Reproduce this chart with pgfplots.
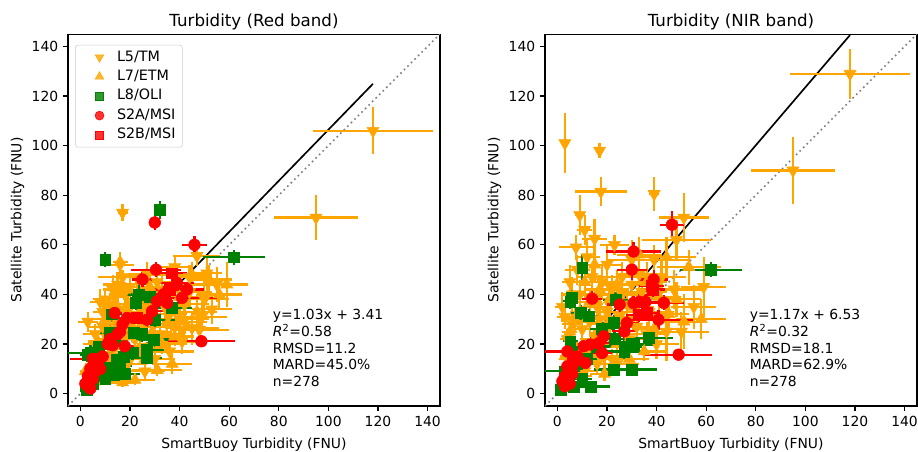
\documentclass[border=0pt]{standalone}
\usepackage{fontspec}
\setmainfont{DejaVu Sans}
\usepackage{pgfplots}
\pgfplotsset{compat=1.18}
\definecolor{mporange}{RGB}{255,165,0}
\definecolor{mpgreen}{RGB}{0,128,0}
\definecolor{mpred}{RGB}{255,0,0}
\newcommand{\lf}{\fontsize{10.3}{12}\selectfont}
\pgfplotsset{
  every axis title shift=0pt,
  myaxis/.style={
    scale only axis, width=267.8pt, height=267.8pt,
    xmin=-5, xmax=145, ymin=-5, ymax=145,
    xtick={0,20,...,140}, ytick={0,20,...,140},
    xtick pos=bottom, ytick pos=left, tick align=outside,
    major tick length=3.5pt,
    every tick/.style={black, line width=0.8pt},
    axis line style={line width=0.8pt},
    /pgf/number format/assume math mode=true,
    ticklabel style={font=\fontsize{10}{12}\selectfont},
    label style={font=\fontsize{10}{12}\selectfont},
    xlabel style={at={(axis description cs:0.5,-0.114)}, anchor=base},
    ylabel style={at={(axis description cs:-0.1254,0.5)}, anchor=base},
    title style={at={(axis description cs:0.5,1.0205)}, anchor=base, font=\fontsize{12}{14}\selectfont},
    xlabel={SmartBuoy Turbidity (FNU)},
    ylabel={Satellite Turbidity (FNU)},
  },
  eb/.style={only marks, forget plot,
    error bars/x dir=both, error bars/x explicit,
    error bars/y dir=both, error bars/y explicit,
    error bars/error mark=none,
    error bars/error bar style={line width=1.6pt, solid}},
  l5/.style={eb, color=mporange, mark=triangle*, mark size=5pt, mark options={rotate=180}},
  l7/.style={eb, color=mporange, mark=triangle*, mark size=5pt},
  l8/.style={eb, color=mpgreen, mark=square*, mark size=3.9pt},
  s2a/.style={eb, color=mpred, mark=*, mark size=4.2pt},
  s2b/.style={eb, color=mpred, mark=square*, mark size=3.9pt},
}
\begin{document}
\begin{tikzpicture}
\path[use as bounding box] (0,0) rectangle (660.96pt,324.72pt);
% ================= LEFT =================
\begin{axis}[myaxis, at={(48.96pt,32.4pt)}, anchor=south west,
  title={Turbidity (Red band)},
  legend cell align=left,
  legend image code/.code={\path (-14.2pt,0pt) (10.4pt,0pt); \draw[#1] plot coordinates {(0pt,0pt)};},
  legend style={at={(axis description cs:0.019,0.971)}, anchor=north west,
    draw=black!20, rounded corners=2pt, fill=white, fill opacity=0.8, text opacity=1,
    font=\lf, row sep=0.5pt,
    nodes={text height=7.5pt, text depth=2pt}},
]
\addlegendimage{color=mporange, mark=triangle*, mark size=3.6pt, mark options={rotate=180}}
\addlegendentry{\lf L5/TM}
\addlegendimage{color=mporange, mark=triangle*, mark size=3.6pt}
\addlegendentry{\lf L7/ETM}
\addlegendimage{color=mpgreen, mark=square*, mark size=2.8pt}
\addlegendentry{\lf L8/OLI}
\addlegendimage{color=mpred, mark=*, mark size=3.2pt}
\addlegendentry{\lf S2A/MSI}
\addlegendimage{color=mpred, mark=square*, mark size=2.8pt}
\addlegendentry{\lf S2B/MSI}
\addplot[forget plot, gray, line width=1.2pt, dash pattern=on 1.2pt off 2.4pt] coordinates {(-5,-5) (145,145)};
\addplot[forget plot, black, line width=1.2pt] coordinates {(1,4.44) (118,124.95)};
\addplot[l5] table[x=x,y=y,x error=ex,y error=ey] {
x y ex ey
118 106 24 9.5
95 71 17 9
17 73 2 3.5
16 52 5.5 4
47 55.5 9.5 4
38 51 7 5
51 48.5 6 7
44 47 8 5
17 47 10 3
15 44 6 5
8 37 4 5
10 38 5 4
12 36 3 4
14 39 5 5
18 41 6 4
20 43 7 4
23 40 8 5
26 35 6 4
29 38 8 5
33 42 9 6
36 32 7 5
53 34 8 6
45 26.5 11 7
48 25.8 12 6
36 17 10 3
3 29 4 4
6 24 5 4
9 27 6 5
12 26 4 5
15 28 6 4
20 30 8 5
22 22 6 4
25 27 9 5
8 18 5 3
11 15 5 3
5 12 3 3
14 9 6 3
19 12 8 3
3 8 2 2
7 5 3 2
16 6 5 2
28 19 8 4
32 24 10 4
42 36 10 5
40 30 12 6
50 38 10 8
55 44 10 7
31 45 9 5
27 48 8 5
44 41 9 6
49 31 10 6
38 27 9 5
24 18 9 4
30 14 8 4
19 33 8 5
13 42 4 6
9 33 4 4
6 20 5 3
11 22 5 4
18 26 7 4
34 35 8 5
41 21 10 5
26 9 8 3
10 11 4 3
};
\addplot[l7] table[x=x,y=y,x error=ex,y error=ey] {
x y ex ey
59 44 8.7 9
31 9.5 10 2.5
22 5.5 8 2
17 4.5 5 2
45 48 8 5
52 46 9 6
40 39 8 6
35 28 9 5
30 30 8 4
24 33 7 5
19 36 6 4
15 35 5 5
10 30 5 4
7 21 4 3
4 15 3 3
2 9 2 2
9 7 4 2
13 18 5 3
18 23 6 4
26 14 7 3
28 43 8 5
21 27 7 5
38 23 8 4
16 53 3 4
47 33 8 7
56 40 9 6
33 20 10 4
42 29 9 5
25 38 8 5
12 13 5 3
6 10 3 2
20 16 7 3
29 25 8 5
37 12 8 4
};
\addplot[l8] table[x=x,y=y,x error=ex,y error=ey] {
x y ex ey
32 74 2.5 3.5
10 54 2 3
62 55 12.5 3
23.5 40 6 4
22.5 36.6 5 3
28 39 7 4
37 34.6 8 3
12.8 32 4 3
2.9 15.7 3 3
4 16.5 9 2
7.4 19 4 3
12 24.5 4 3
14 21.8 5 3
21.5 24.5 7 3
24.9 24 6 3
21 16.4 6 3
26.9 17.7 7 3
26.9 14.4 6 2
29.6 21.8 8 3
30.2 29.8 8 3
14.8 13.7 5 2
17.5 15 6 2
8 7 3 2
13.4 7.7 5 2
12 10.4 4 2
16 11 5 2
2.7 1.6 1 1
2.2 3 1 1
8 10.4 3 2
5 4 2 1
10 6 4 2
18 8 6 2
};
\addplot[s2a] table[x=x,y=y,x error=ex,y error=ey] {
x y ex ey
30 69 2 3
46 60 5 3.5
30.5 50 10 3
25 46 4 3
13.8 32.5 3 2.5
18.8 30.5 4 3
28.9 33.2 5 3
26.9 29.8 4 3
30.9 37.2 6 3
33.5 40 5 3
35.5 42 6 3
39 44.6 7 3
41 38.6 14 3
43 42 7 3
35 36.6 5 3
17.9 19.1 4 2
48.8 21.1 13.5 2
5 14 9 2
3 3 1 1
4 5 1.5 1
3 7 1.5 1
5 8 2 1.5
4 10 2 1.5
6 9 2 1.5
7 12 2 1.5
8 10 2 1.5
9 15 3 2
5 6 1.5 1
2 4 1 1
4 2 1 1
11 20 3 2
12 22 3 2
13 19.5 3 2
16 25 4 2
17 28 4 2
15 24 4 2
6 11 2 1.5
};
\addplot[s2b] table[x=x,y=y,x error=ex,y error=ey] {
x y ex ey
37 48.5 6 3
36 42 5 3
22.9 30.6 3 2
7 14 3 2
4 8 2 1.5
3 4.5 1.5 1
};
\node[anchor=south west, align=left, inner sep=0pt, font=\fontsize{10}{12.2}\selectfont] at (rel axis cs:0.55,0.05)
  {y=1.03x + 3.41\\\textit{R}\textsuperscript{2}=0.58\\RMSD=11.2\\MARD=45.0\%\\n=278};
\end{axis}
% ================= RIGHT =================
\begin{axis}[myaxis, at={(392.4pt,32.4pt)}, anchor=south west,
  title={Turbidity (NIR band)}]
\addplot[forget plot, gray, line width=1.2pt, dash pattern=on 1.2pt off 2.4pt] coordinates {(-5,-5) (145,145)};
\addplot[forget plot, black, line width=1.2pt] coordinates {(1,7.7) (118,144.59)};
\addplot[l5] table[x=x,y=y,x error=ex,y error=ey] {
x y ex ey
118 129 24 10
95 90 17 13.5
3 101 1.5 12
17 98 1.5 3
17.5 81.5 10.5 6
39 80.5 2 7
9 72 2 8
51 71 10 10
48 62 14 8
7.5 59 7 5
23 60 6 4
15 62.5 5 8
11 66 3 6
39 54 14 6
59 43 9 12
44 25 8 12
8 50 5 6
14 47 6 5
18 45 8 7
22 42 7 6
26 47 9 6
30 44 8 6
34 41 10 7
3 31 3 5
6 28 4 5
10 26 4 6
13 29 5 6
16 35 6 6
20 33 7 6
25 31 8 5
28 36 9 6
32 27 8 5
36 24 9 5
12 16 5 4
16 12 6 4
9 7 5 3
22 14 8 4
4 22 3 4
6 40 4 7
19 24 6 5
30 54 10 8
26 40 8 7
20 52 6 8
12 55 5 7
42 47 10 7
47 42 12 8
55 35 9 9
37 33 10 6
29 22 9 6
24 12 9 5
14 20 6 5
2 35 3 6
5 45 3 7
9 40 4 6
17 30 6 6
40 20 9 6
50 25 11 8
33 48 8 6
21 28 7 5
11 9 5 4
};
\addplot[l7] table[x=x,y=y,x error=ex,y error=ey] {
x y ex ey
53 51 13 7
51 29 8 11
45 32 8 6
41 39 9 7
36 45 8 8
31 35 8 6
26 30 7 6
21 38 7 6
17 42 6 6
13 37 5 5
9 33 4 5
5 25 3 4
3 15 2 3
8 18 4 3
15 22 6 4
24 20 7 4
29 14 8 4
35 17 9 4
19 8 6 3
11 45 4 7
44 55 12 8
58 30 10 8
39 26 9 7
33 56 9 7
24 44 7 6
15 52 5 7
7 30 3 5
19 15 6 4
48 38 10 7
28 20 8 5
};
\addplot[l8] table[x=x,y=y,x error=ex,y error=ey] {
x y ex ey
10 50.7 2 5
62 50 12.5 3
5.9 38.6 3 3
5.2 37.2 3 3
9.3 32.6 4 3
12.6 31.2 4 3
23.4 37.9 5 3
22.7 28.5 5 3
23 22 6 3
27 19 7 3
30 20 8 3
27 17 7 3
30.8 19.8 8 3
36.8 22.4 10 3
5.2 21.1 3 3
5.9 17.1 3 3
22.7 9.7 8 2
30 9.7 10 2
13.3 2.9 8 2
1.2 1.6 1 1
6.6 2.9 2 1
3 9 8 2
8 12 3 2
12 14 4 2
16 19 5 2
10 6 4 2
18 26 5 3
};
\addplot[s2a] table[x=x,y=y,x error=ex,y error=ey] {
x y ex ey
46.2 68.1 5 5.5
30.7 57.3 11 4
30 50 6 4
38.8 46 6 4
14 38.3 4 3
25.1 35.9 5 3
30.7 36.5 5 3
33 37 5 3
35.5 37 6 3
42.9 36.6 8 3
40.8 29.8 14 4
28 28.5 5 3
27 25.1 5 3
18.7 23.1 4 3
16.7 20.4 4 3
13.3 19.8 4 2
10.6 19.1 3 2
18 16.4 4 2
11.3 12.4 3 2
48.9 15.7 13.5 2
4 17 9 2
3 3 1 1
4 5 1.5 1
3 7 1.5 1
5 9 2 1.5
4 11 2 1.5
6 8 2 1.5
7 13 2 1.5
2 5 1 1
5 4 1 1
8 15 2 2
6 11 2 1.5
};
\addplot[s2b] table[x=x,y=y,x error=ex,y error=ey] {
x y ex ey
32.8 31.8 5 3
36 32.5 5 3
38 43.5 5 3
38.5 42 5 3
6 14 3 2
3 6 2 1
};
\node[anchor=south west, align=left, inner sep=0pt, font=\fontsize{10}{12.2}\selectfont] at (rel axis cs:0.55,0.05)
  {y=1.17x + 6.53\\\textit{R}\textsuperscript{2}=0.32\\RMSD=18.1\\MARD=62.9\%\\n=278};
\end{axis}
\end{tikzpicture}
\end{document}
